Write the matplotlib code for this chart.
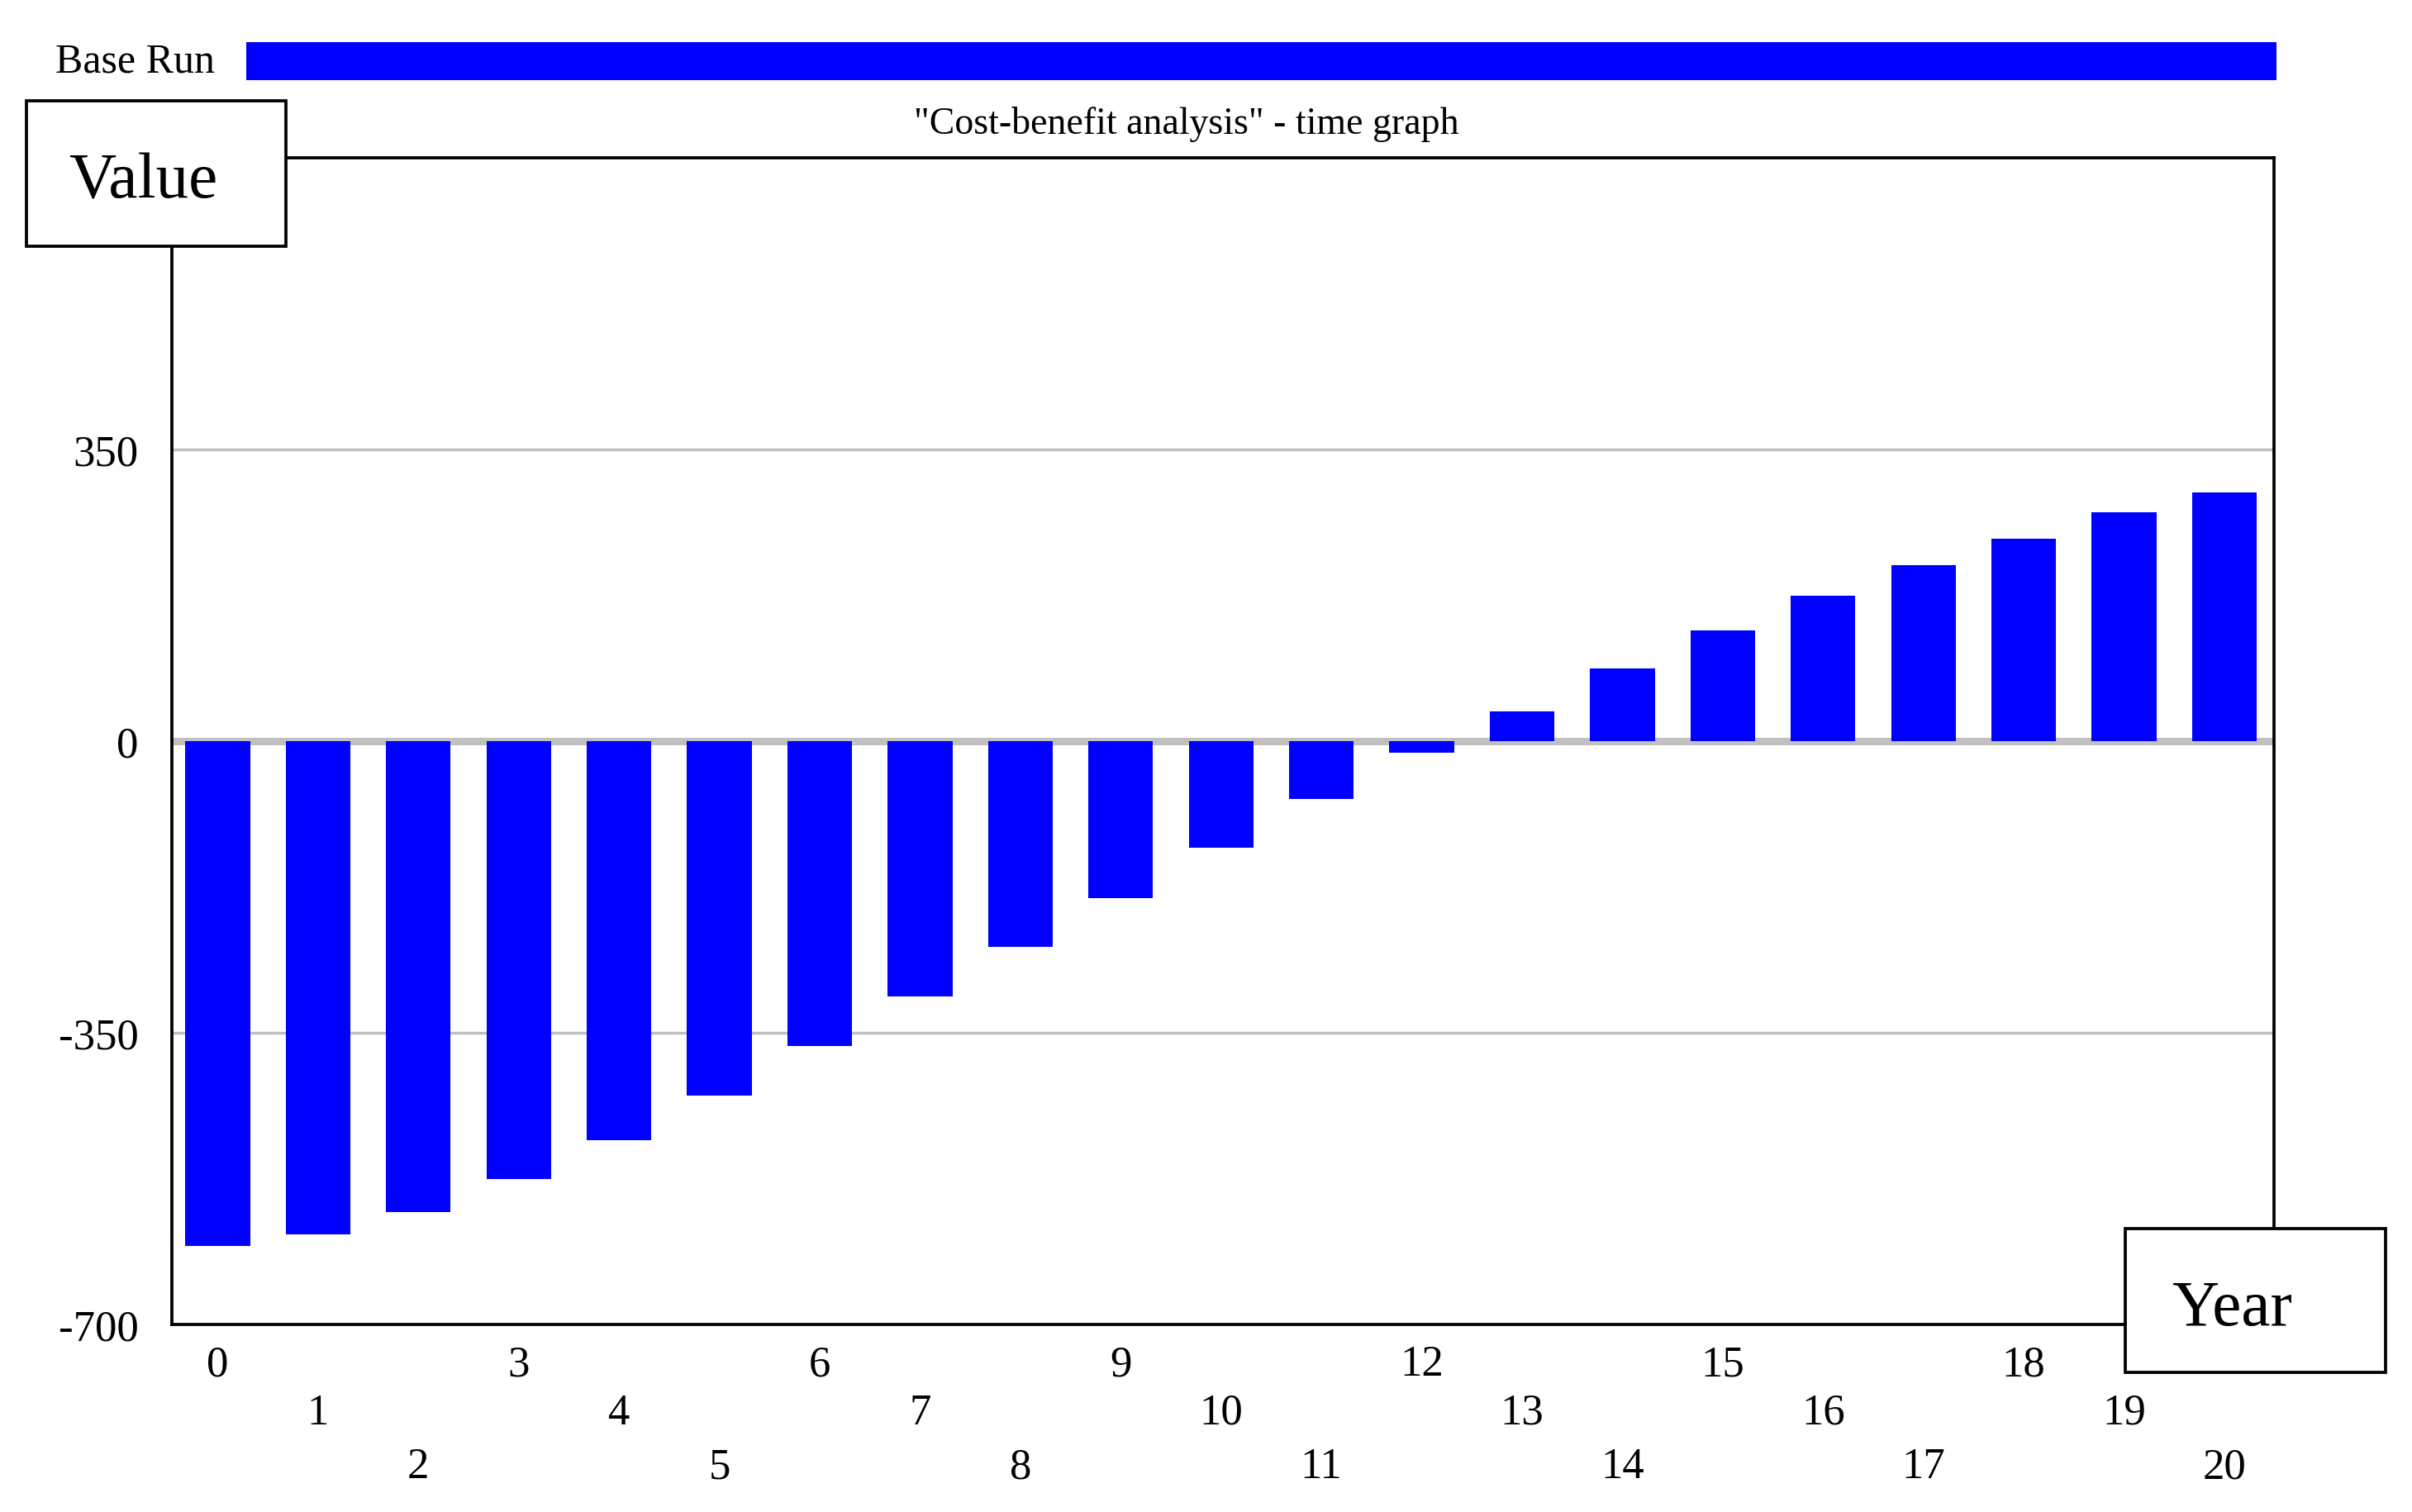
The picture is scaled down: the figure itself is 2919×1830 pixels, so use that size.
import matplotlib
matplotlib.use('Agg')
import matplotlib.pyplot as plt
import matplotlib.patches as patches

# Cost-benefit analysis, one value per year
years = list(range(0, 21))
values = [-606, -592, -565, -525, -479, -425, -366, -306, -247, -188,
          -128, -69, -14, 36, 87, 133, 175, 211, 243, 275, 298]
y_ticks = [-700, -350, 0, 350]
y_tick_labels = ['-700', '-350', '0', '350']

W, H = 2919, 1831
FONT = 'Liberation Serif'
BLUE = '#0000ff'
GRID = '#c0c0c0'


def fx(px):
    return px / W


def fy(py):
    # pixel rows counted from the top
    return 1 - py / H


fig = plt.figure(figsize=(W / 100, H / 100), dpi=100)

# plot area, pixel box 208..2752 x 192..1604
ax = fig.add_axes([fx(208), fy(1604), fx(2752) - fx(208), fy(192) - fy(1604)])

ax.axhline(350, color=GRID, lw=2.5, zorder=1)
ax.axhline(-350, color=GRID, lw=2.5, zorder=1)
ax.axhline(0, color=GRID, lw=6.5, zorder=1)

ax.bar(years, values, width=0.645, color=BLUE, zorder=2)

ax.set_xlim(-0.456, 20.494)
ax.set_ylim(-700, 700)

for side in ['left', 'right', 'top', 'bottom']:
    ax.spines[side].set_linewidth(2.7)
    ax.spines[side].set_color('black')

ax.set_yticks(y_ticks)
ax.set_yticklabels(y_tick_labels, fontsize=38, family=FONT)
ax.tick_params(axis='y', length=0, pad=29)

# x labels staggered over three rows
ax.set_xticks([])
row_offsets = [48, 107, 172]
for i, yr in enumerate(years):
    ax.annotate(str(yr), xy=(yr, 0), xycoords=('data', 'axes fraction'),
                xytext=(0, -row_offsets[i % 3]), textcoords='offset pixels',
                ha='center', va='center', fontsize=38, family=FONT)

# axis name boxes on the corners
def name_box(x0, y0, x1, y1, label, text_left):
    rect = patches.Rectangle((fx(x0), fy(y1)), fx(x1) - fx(x0), fy(y0) - fy(y1),
                             transform=fig.transFigure, facecolor='white',
                             edgecolor='black', lw=2.7, zorder=5)
    fig.add_artist(rect)
    fig.text(fx(text_left), fy((y0 + y1) / 2 + 10), label, fontsize=57, family=FONT,
             ha='left', va='center', zorder=6)


name_box(32, 123, 346, 299, 'Value', 83)
name_box(2572, 1488, 2887, 1662, 'Year', 2628)

# legend strip
fig.text(fx(67), fy(75), 'Base Run', fontsize=36, family=FONT, ha='left', va='center')
fig.add_artist(patches.Rectangle((fx(298), fy(98)), fx(2755) - fx(298), fy(52) - fy(98),
                                 transform=fig.transFigure, facecolor=BLUE,
                                 edgecolor='none'))

fig.text(fx(1436), fy(151), '"Cost-benefit analysis" - time graph', fontsize=33,
         family=FONT, ha='center', va='center')

fig.savefig('out.png', dpi=100)
